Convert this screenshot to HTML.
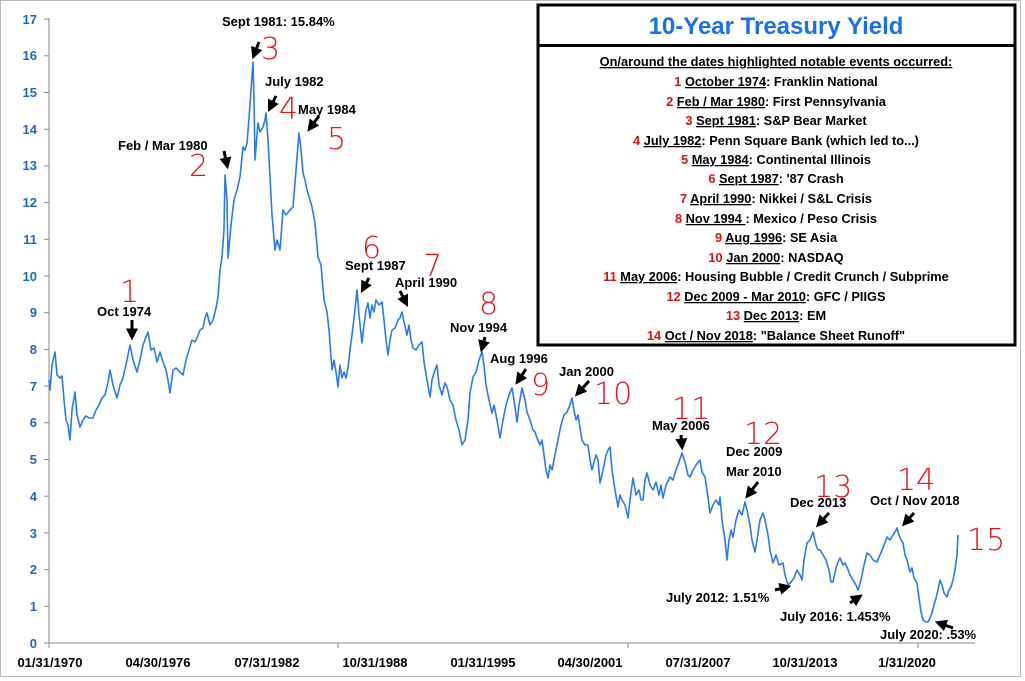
<!DOCTYPE html>
<html><head><meta charset="utf-8"><style>
body{margin:0;background:#fff;}
svg{display:block;font-family:"Liberation Sans",Arial,sans-serif;}
.yl{font-size:13px;font-weight:bold;fill:#2266c4;text-anchor:end;}
.xl{font-size:13px;font-weight:bold;fill:#000;text-anchor:middle;}
.an{font-size:13px;font-weight:bold;fill:#000;}
.rn{font-size:30px;fill:#e8141c;font-family:"DejaVu Sans","Liberation Sans",sans-serif;font-weight:200;}
.lg{font-size:12.8px;font-weight:bold;fill:#000;text-anchor:middle;}
.lg tspan.r{fill:#e01010;}
</style></head><body>
<svg width="1025" height="681" viewBox="0 0 1025 681">
<defs><marker id="ah" markerWidth="4" markerHeight="4" refX="2.5" refY="2" orient="auto"><path d="M0,0 L4,2 L0,4 Z" fill="#000"/></marker></defs>
<rect x="0.5" y="0.5" width="1020" height="676" fill="#fff" stroke="#bbb"/>
<line x1="49" y1="18" x2="49" y2="648" stroke="#888"/>
<line x1="44" y1="643" x2="975" y2="643" stroke="#888"/>
<g stroke="#888">
<line x1="44" y1="606.3" x2="49" y2="606.3"/><line x1="44" y1="569.6" x2="49" y2="569.6"/><line x1="44" y1="532.9" x2="49" y2="532.9"/><line x1="44" y1="496.2" x2="49" y2="496.2"/><line x1="44" y1="459.5" x2="49" y2="459.5"/><line x1="44" y1="422.8" x2="49" y2="422.8"/><line x1="44" y1="386.1" x2="49" y2="386.1"/><line x1="44" y1="349.4" x2="49" y2="349.4"/><line x1="44" y1="312.7" x2="49" y2="312.7"/><line x1="44" y1="276" x2="49" y2="276"/><line x1="44" y1="239.3" x2="49" y2="239.3"/><line x1="44" y1="202.6" x2="49" y2="202.6"/><line x1="44" y1="165.9" x2="49" y2="165.9"/><line x1="44" y1="129.2" x2="49" y2="129.2"/><line x1="44" y1="92.5" x2="49" y2="92.5"/><line x1="44" y1="55.8" x2="49" y2="55.8"/><line x1="44" y1="19.1" x2="49" y2="19.1"/>
<line x1="338" y1="643" x2="338" y2="648"/><line x1="628" y1="643" x2="628" y2="648"/><line x1="918" y1="643" x2="918" y2="648"/>
</g>
<g class="yl">
<text x="37" y="648">0</text><text x="37" y="611">1</text><text x="37" y="574">2</text><text x="37" y="538">3</text><text x="37" y="501">4</text><text x="37" y="464">5</text><text x="37" y="427">6</text><text x="37" y="391">7</text><text x="37" y="354">8</text><text x="37" y="317">9</text><text x="37" y="281">10</text><text x="37" y="244">11</text><text x="37" y="207">12</text><text x="37" y="170">13</text><text x="37" y="134">14</text><text x="37" y="97">15</text><text x="37" y="60">16</text><text x="37" y="24">17</text>
</g>
<g class="xl">
<text x="50" y="667">01/31/1970</text><text x="158" y="667">04/30/1976</text><text x="267" y="667">07/31/1982</text><text x="375" y="667">10/31/1988</text><text x="483" y="667">01/31/1995</text><text x="590" y="667">04/30/2001</text><text x="698" y="667">07/31/2007</text><text x="805" y="667">10/31/2013</text><text x="907" y="667">1/31/2020</text>
</g>
<polyline fill="none" stroke="#2a7bf0" stroke-width="1.6" stroke-linejoin="round" points="
49,380 50,390 52,365 55,352 57,375 60,378 62,376 64,400 66,420 68,425 70,440 72,410 75,392 77,415 80,427 83,420 86,416 89,418 93,418 96,410 99,405 102,398 105,395 108,382 110,370 113,385 117,398 120,385 123,378 127,360 130,345 133,360 137,372 140,360 143,345 146,337 148,332 151,350 154,348 157,362 160,352 163,362 166,370 168,380 170,393 173,370 176,368 180,372 183,375 186,360 189,350 192,340 195,342 197,338 200,330 203,328 205,318 207,313 210,325 213,320 216,308 218,297 220,270 222,257 224,230 225,175 227,200 228,258 231,225 234,200 237,190 240,177 243,147 245,150 247,143 249,118 251,90 253,62 254,100 255,160 257,135 258,123 260,132 263,127 265,120 266,113 268,140 270,177 272,215 275,250 277,240 280,250 283,210 286,215 290,210 293,207 296,170 299,133 301,150 303,173 305,180 307,190 310,200 312,207 315,223 318,257 321,265 324,300 327,312 329,330 332,370 334,360 336,372 338,387 340,365 342,378 344,372 346,378 348,368 350,350 352,335 354,318 356,300 357,290 359,315 362,343 364,325 366,310 368,303 370,318 372,305 374,312 376,300 379,305 382,302 384,320 386,340 388,355 390,340 392,330 395,328 398,320 400,318 402,312 404,322 407,335 409,325 411,340 413,348 416,350 419,345 422,342 424,362 427,380 430,397 432,380 435,370 437,365 439,385 442,395 445,383 447,387 450,400 453,405 456,420 459,430 462,445 465,440 468,420 470,393 473,377 476,372 479,360 482,352 484,365 486,385 489,400 492,413 494,405 497,420 500,438 503,420 506,405 509,395 512,388 514,400 517,422 519,405 522,388 525,400 527,412 530,420 533,430 535,432 537,438 540,445 542,440 544,455 546,470 548,478 550,465 552,470 555,455 558,440 561,425 564,415 567,412 570,405 572,398 574,410 576,420 578,415 580,428 582,440 585,445 588,445 590,460 592,470 594,462 596,455 598,460 600,483 603,470 606,455 608,450 610,447 612,470 615,490 618,507 620,495 622,500 625,505 628,518 630,500 633,478 636,495 639,490 641,500 643,500 645,480 647,473 650,485 653,490 656,482 659,495 661,485 663,498 666,485 670,477 673,480 676,470 679,462 682,453 685,462 688,475 690,477 693,470 696,465 700,460 702,472 705,477 707,490 710,513 713,505 716,500 719,505 720,497 722,520 725,540 727,560 729,540 731,530 733,537 736,520 739,510 742,515 745,502 747,510 750,525 752,540 755,552 757,540 760,520 763,513 765,520 768,535 770,550 773,563 776,555 779,565 783,563 785,575 788,585 791,582 794,578 797,570 800,575 802,580 804,560 807,543 810,540 813,532 816,545 818,550 820,550 823,555 826,560 829,570 831,582 833,582 836,568 838,562 840,558 843,565 845,563 847,567 850,575 853,580 856,585 858,590 861,580 864,565 867,553 870,555 873,560 877,562 880,555 883,548 887,537 890,540 893,535 895,532 897,528 899,535 901,540 903,543 905,555 907,560 910,572 912,568 914,578 917,583 919,598 921,612 923,620 926,622 928,622 930,618 932,613 934,605 936,598 938,590 940,580 942,585 944,593 947,597 949,590 951,587 953,580 955,570 957,555 958,535"/>
<g class="an">
<text x="222" y="26">Sept 1981: 15.84%</text>
<text x="265" y="86">July 1982</text>
<text x="298" y="114">May 1984</text>
<text x="118" y="150">Feb / Mar 1980</text>
<text x="97" y="316">Oct 1974</text>
<text x="345" y="270">Sept 1987</text>
<text x="395" y="287">April 1990</text>
<text x="450" y="332">Nov 1994</text>
<text x="490" y="363">Aug 1996</text>
<text x="559" y="376">Jan 2000</text>
<text x="652" y="430">May 2006</text>
<text x="726" y="456">Dec 2009</text>
<text x="726" y="476">Mar 2010</text>
<text x="790" y="507">Dec 2013</text>
<text x="870" y="505">Oct / Nov 2018</text>
<text x="666" y="602">July 2012: 1.51%</text>
<text x="780" y="621">July 2016: 1.453%</text>
<text x="880" y="639">July 2020: .53%</text>
</g>
<g stroke="#000" stroke-width="3" marker-end="url(#ah)">
<line x1="259" y1="42" x2="254" y2="55"/>
<line x1="276" y1="96" x2="270" y2="108"/>
<line x1="319" y1="116" x2="310" y2="128"/>
<line x1="224" y1="151" x2="227" y2="165"/>
<line x1="132" y1="320" x2="132" y2="336"/>
<line x1="369" y1="278" x2="363" y2="289"/>
<line x1="400" y1="291" x2="406" y2="303"/>
<line x1="485" y1="337" x2="482" y2="348"/>
<line x1="526" y1="369" x2="518" y2="381"/>
<line x1="589" y1="381" x2="578" y2="393"/>
<line x1="681" y1="435" x2="682" y2="446"/>
<line x1="758" y1="482" x2="748" y2="495"/>
<line x1="829" y1="513" x2="819" y2="524"/>
<line x1="914" y1="513" x2="905" y2="523"/>
<line x1="775" y1="590" x2="787" y2="587"/>
<line x1="850" y1="603" x2="859" y2="597"/>
<line x1="953" y1="628" x2="939" y2="623"/>
</g>
<g class="rn">
<text x="261" y="59">3</text>
<text x="279" y="119">4</text>
<text x="327" y="149">5</text>
<text x="189" y="176">2</text>
<text x="120" y="302">1</text>
<text x="362" y="258">6</text>
<text x="423" y="276">7</text>
<text x="479" y="314">8</text>
<text x="531" y="395">9</text>
<text x="594" y="404">10</text>
<text x="672" y="419">11</text>
<text x="744" y="444">12</text>
<text x="814" y="497">13</text>
<text x="897" y="490">14</text>
<text x="967" y="550">15</text>
</g>
<rect x="538" y="5" width="477" height="340" fill="#fff" stroke="#000" stroke-width="3"/>
<line x1="538" y1="45.5" x2="1015" y2="45.5" stroke="#000" stroke-width="3"/>
<text x="776" y="34" text-anchor="middle" font-size="24" font-weight="bold" fill="#1a6ff0">10-Year Treasury Yield</text>
<g class="lg">
<text x="776" y="66" text-decoration="underline">On/around the dates highlighted notable events occurred:</text>
<text x="776" y="86"><tspan class="r">1</tspan> <tspan text-decoration="underline">October 1974</tspan>:  Franklin National</text>
<text x="776" y="106"><tspan class="r">2</tspan> <tspan text-decoration="underline">Feb / Mar 1980</tspan>:  First Pennsylvania</text>
<text x="776" y="125"><tspan class="r">3</tspan> <tspan text-decoration="underline">Sept 1981</tspan>:  S&amp;P Bear Market</text>
<text x="776" y="145"><tspan class="r">4</tspan> <tspan text-decoration="underline">July 1982</tspan>:  Penn Square Bank (which led to...)</text>
<text x="776" y="164"><tspan class="r">5</tspan> <tspan text-decoration="underline">May 1984</tspan>:  Continental Illinois</text>
<text x="776" y="183"><tspan class="r">6</tspan> <tspan text-decoration="underline">Sept 1987</tspan>:  '87 Crash</text>
<text x="776" y="203"><tspan class="r">7</tspan> <tspan text-decoration="underline">April 1990</tspan>:  Nikkei / S&amp;L Crisis</text>
<text x="776" y="223"><tspan class="r">8</tspan> <tspan text-decoration="underline">Nov 1994 </tspan>:  Mexico / Peso Crisis</text>
<text x="776" y="242"><tspan class="r">9</tspan> <tspan text-decoration="underline">Aug 1996</tspan>:  SE Asia</text>
<text x="776" y="262"><tspan class="r">10</tspan> <tspan text-decoration="underline">Jan 2000</tspan>:  NASDAQ</text>
<text x="776" y="281"><tspan class="r">11</tspan> <tspan text-decoration="underline">May 2006</tspan>:  Housing Bubble / Credit Crunch / Subprime</text>
<text x="776" y="301"><tspan class="r">12</tspan> <tspan text-decoration="underline">Dec 2009  - Mar 2010</tspan>:  GFC / PIIGS</text>
<text x="776" y="320"><tspan class="r">13</tspan> <tspan text-decoration="underline">Dec 2013</tspan>:  EM</text>
<text x="776" y="340"><tspan class="r">14</tspan> <tspan text-decoration="underline">Oct /  Nov 2018</tspan>:  "Balance Sheet Runoff"</text>
</g>
</svg>
</body></html>
